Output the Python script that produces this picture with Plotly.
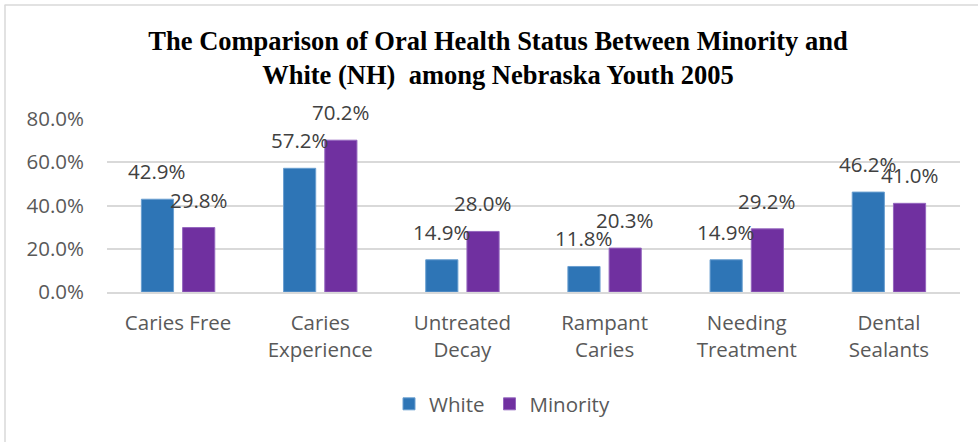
import plotly.graph_objects as go

categories = ["Caries Free", "Caries<br>Experience", "Untreated<br>Decay", "Rampant<br>Caries",
              "Needing<br>Treatment", "Dental<br>Sealants"]
white = [42.9, 57.2, 14.9, 11.8, 14.9, 46.2]
minority = [29.8, 70.2, 28.0, 20.3, 29.2, 41.0]
y_ticks = [0, 20, 40, 60, 80]

W, H = 978, 442
L, R, T, B = 107, 18, 119, 150
pw, ph = W - L - R, H - T - B

def px_x(p):
    return (p - L) / pw

def px_y(p):
    return (H - B - p) / ph

BLUE = "#2E75B6"
PURPLE = "#7030A0"
TXT = "#595959"
LBL = "#404040"
FONT = "Open Sans"
FS = 20.5

fig = go.Figure()
fig.add_trace(go.Bar(name="White", x=categories, y=white, marker_color=BLUE,
                     marker_line=dict(width=1, color="#6A9FD0")))
fig.add_trace(go.Bar(name="Minority", x=categories, y=minority, marker_color=PURPLE,
                     marker_line=dict(width=1, color="#9466BE")))

slot = pw / len(categories) * (1 - 0.42) / 2
for i, c in enumerate(categories):
    for vals, sh in ((white, -slot / 2), (minority, slot / 2)):
        fig.add_annotation(x=c, y=vals[i], text=f"{vals[i]:.1f}%", showarrow=False,
                           xshift=sh, yshift=12, yanchor="bottom",
                           font=dict(family=FONT, size=FS, color=LBL))

fig.update_layout(
    width=W, height=H,
    margin=dict(l=L, r=R, t=T, b=B),
    paper_bgcolor="white", plot_bgcolor="white",
    barmode="group", bargap=0.42, bargroupgap=0.22,
    title=dict(text="The Comparison of Oral Health Status Between Minority and<br>White (NH)  among Nebraska Youth 2005",
               x=498 / W, xref="container", xanchor="center", y=1 - 50 / H, yanchor="middle",
               font=dict(family="Liberation Serif", size=26.5, color="black", weight="bold")),
    showlegend=True,
    legend=dict(orientation="h", x=px_x(502), xanchor="center", y=px_y(404), yanchor="middle",
                font=dict(family=FONT, size=FS, color=TXT), itemwidth=30, traceorder="normal"),
    font=dict(family=FONT, color=TXT),
    shapes=[
        dict(type="line", xref="paper", yref="paper", x0=px_x(4.5), x1=px_x(980), y0=px_y(5), y1=px_y(5),
             line=dict(color="#D9D9D9", width=1.5)),
        dict(type="line", xref="paper", yref="paper", x0=px_x(5), x1=px_x(5), y0=px_y(5), y1=px_y(445),
             line=dict(color="#D9D9D9", width=1.5)),
    ],
)
fig.update_yaxes(range=[0, 80], tickvals=y_ticks, ticktext=[f"{v:.1f}%" for v in y_ticks],
                 showgrid=True, gridcolor="#D9D9D9", gridwidth=1.5, zeroline=False,
                 showline=False, ticks="", ticklabelstandoff=22,
                 tickfont=dict(family=FONT, size=FS, color=TXT))
fig.update_xaxes(showline=True, linecolor="#D9D9D9", linewidth=1.5, ticks="",
                 ticklabelstandoff=12, tickfont=dict(family=FONT, size=FS, color=TXT))

fig.write_html("out.html", config={"displayModeBar": False},
               post_script="document.body.style.margin='0';")
